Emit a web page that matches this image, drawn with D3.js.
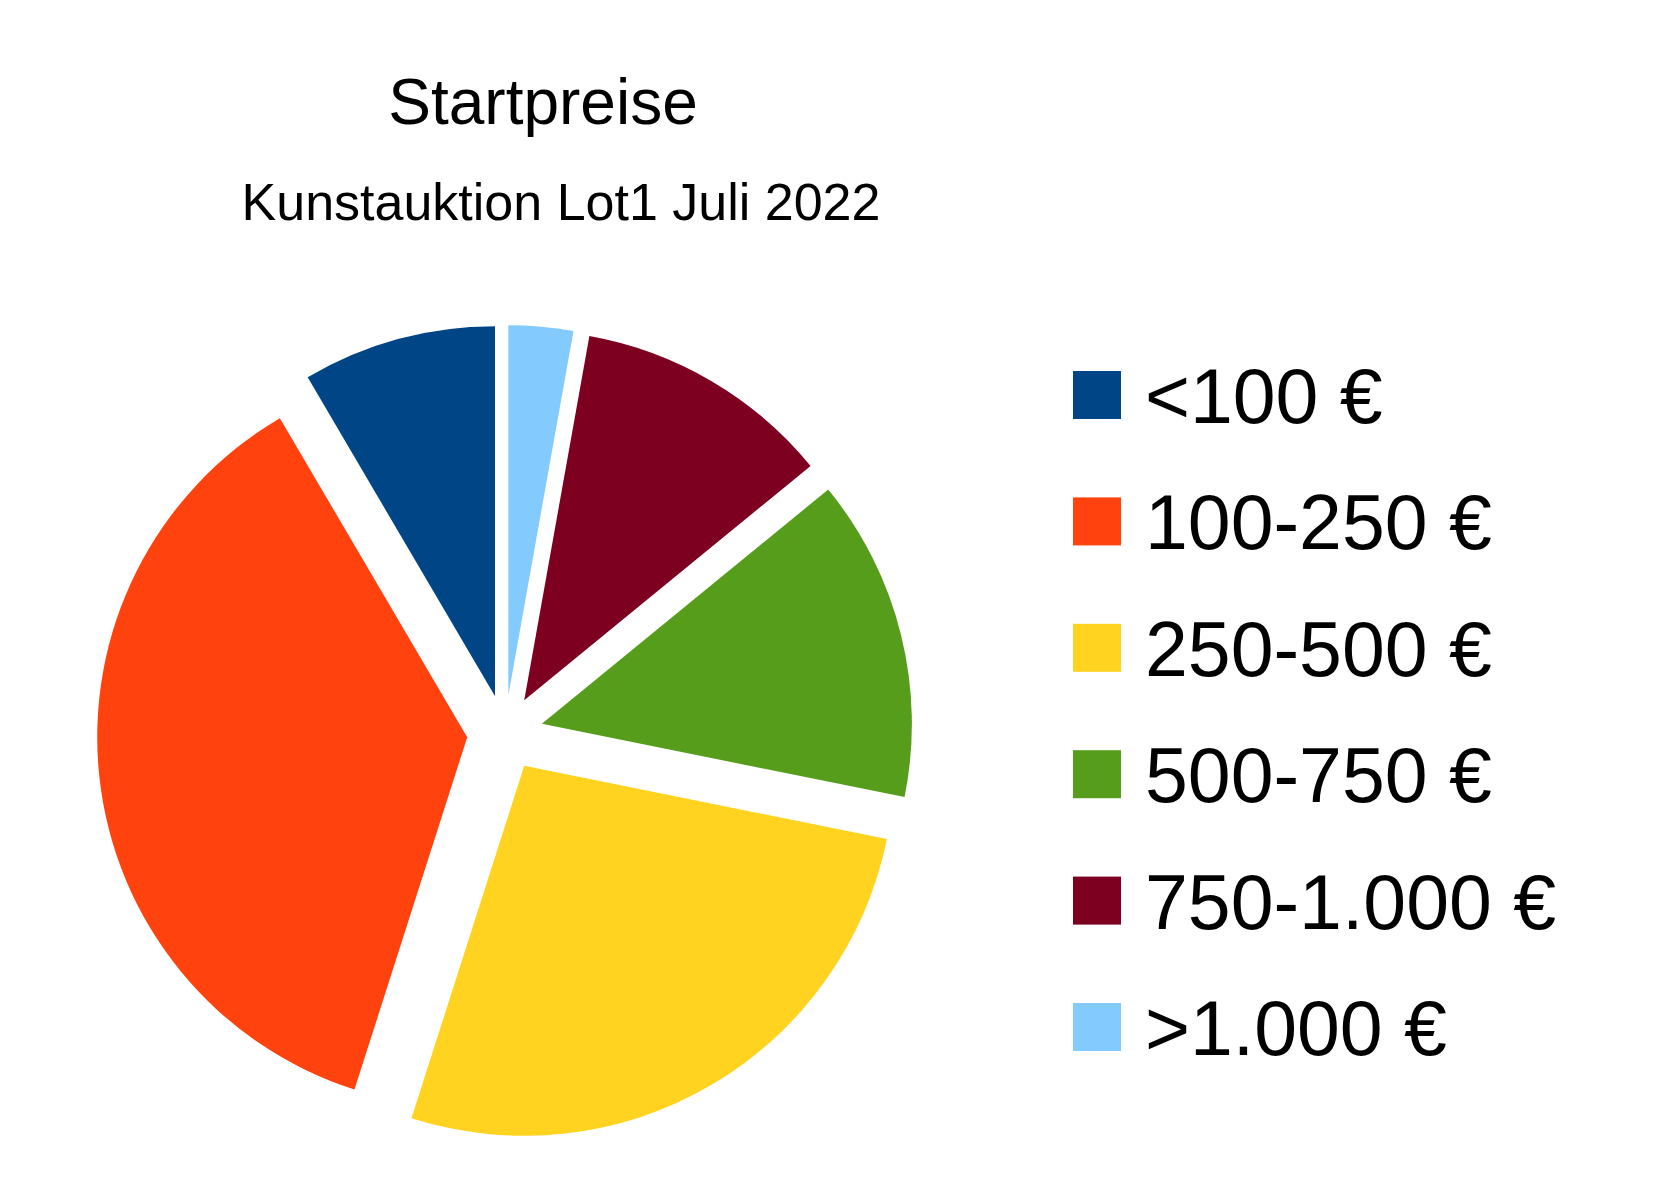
<!DOCTYPE html>
<html>
<head>
<meta charset="utf-8">
<script src="https://cdn.jsdelivr.net/npm/d3@7"></script>
<style>
  body { margin: 0; background: #fff; }
  text { font-family: "Liberation Sans", Arial, sans-serif; fill: #000; }
</style>
</head>
<body>
<div id="chart"></div>
<script>
// Price bands and counts
var labels = ["<100 €", "100-250 €", "250-500 €", "500-750 €", "750-1.000 €", ">1.000 €"];
var counts = [6, 26, 19, 10, 8, 2];
var colors = ["#004586", "#ff420e", "#ffd320", "#579d1c", "#7e0021", "#83caff"];

var width = 1666, height = 1200;
var cx = 505, cy = 733, radius = 370, explode = 38;

var svg = d3.select("#chart").append("svg")
    .attr("width", width)
    .attr("height", height);

// Titles
svg.append("text")
    .attr("x", 543).attr("y", 124)
    .attr("text-anchor", "middle")
    .attr("font-size", "64px")
    .text("Startpreise");

svg.append("text")
    .attr("x", 561).attr("y", 220)
    .attr("text-anchor", "middle")
    .attr("font-size", "52px")
    .text("Kunstauktion Lot1 Juli 2022");

// Pie drawn counter-clockwise from 12 o'clock, all slices exploded
var data = labels.map((l, i) => ({ label: l, value: counts[i], color: colors[i] }));
var pie = d3.pie().sort(null).value(d => d.value)
    .startAngle(0).endAngle(-2 * Math.PI);
var arc = d3.arc().innerRadius(0).outerRadius(radius);

var g = svg.append("g").attr("transform", "translate(" + cx + "," + cy + ")");
g.selectAll("path")
    .data(pie(data))
    .enter()
    .append("path")
    .attr("d", arc)
    .attr("fill", d => d.data.color)
    .attr("transform", d => {
        var mid = (d.startAngle + d.endAngle) / 2;
        return "translate(" + (explode * Math.sin(mid)) + "," + (-explode * Math.cos(mid)) + ")";
    });

// Legend
var legend = svg.append("g");
var rowY = d3.scalePoint().domain(labels).range([395, 1027]);
var items = legend.selectAll("g")
    .data(data)
    .enter()
    .append("g")
    .attr("transform", d => "translate(1073," + rowY(d.label) + ")");

items.append("rect")
    .attr("x", 0).attr("y", -24)
    .attr("width", 48).attr("height", 48)
    .attr("fill", d => d.color);

items.append("text")
    .attr("x", 72).attr("y", 28)
    .attr("font-size", "77px")
    .text(d => d.label);
</script>
</body>
</html>
